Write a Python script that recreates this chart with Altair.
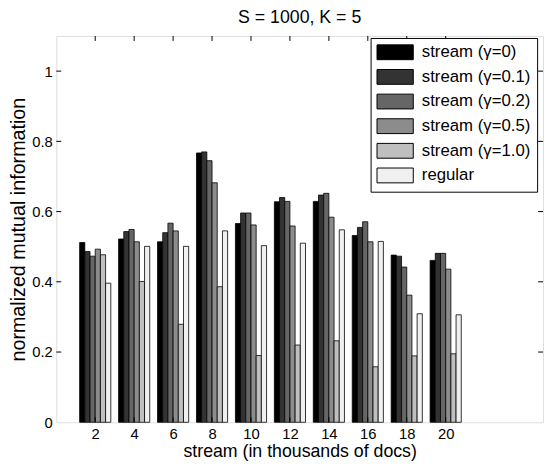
import altair as alt
import pandas as pd

groups = [2, 4, 6, 8, 10, 12, 14, 16, 18, 20]
series = ["stream (γ=0)", "stream (γ=0.1)", "stream (γ=0.2)",
          "stream (γ=0.5)", "stream (γ=1.0)", "regular"]
g_0 = [0.512, 0.522, 0.514, 0.767, 0.566, 0.628, 0.629, 0.532, 0.476, 0.461]
g_01 = [0.486, 0.543, 0.540, 0.770, 0.596, 0.640, 0.647, 0.555, 0.473, 0.481]
g_02 = [0.473, 0.549, 0.567, 0.745, 0.596, 0.629, 0.652, 0.571, 0.442, 0.481]
g_05 = [0.493, 0.514, 0.545, 0.682, 0.562, 0.559, 0.584, 0.514, 0.362, 0.436]
g_10 = [0.477, 0.401, 0.279, 0.386, 0.190, 0.220, 0.232, 0.158, 0.189, 0.195]
regular = [0.396, 0.501, 0.501, 0.545, 0.503, 0.510, 0.548, 0.515, 0.309, 0.306]
colors = ["#000000", "#333333", "#666666", "#8c8c8c", "#bfbfbf", "#f0f0f0"]
x_ticks = [2, 4, 6, 8, 10, 12, 14, 16, 18, 20]
y_ticks = [0, 0.2, 0.4, 0.6, 0.8, 1.0]

values = [g_0, g_01, g_02, g_05, g_10, regular]
rows = []
for si, (name, vals) in enumerate(zip(series, values)):
    for g, v in zip(groups, vals):
        rows.append({"group": g, "series": name, "idx": si, "value": v})
df = pd.DataFrame(rows)

W, H = 494, 392
FONT = "Liberation Sans"
XT = "stream (in thousands of docs)"
YT = "normalized mutual information"
xscale = alt.Scale(domain=[0, 25], nice=False, zero=False)
yscale = alt.Scale(domain=[0, 1.1], nice=False)
xaxis = alt.Axis(values=x_ticks, ticks=False, domain=False, grid=False,
                 labelFontSize=15, labelPadding=4, titleFontSize=18,
                 titlePadding=2, labelColor="black", titleColor="black",
                 titleFontWeight="normal", labelFont=FONT, titleFont=FONT)
yaxis = alt.Axis(values=y_ticks, format="~g", ticks=False, domain=False,
                 grid=False, labelFontSize=15, labelPadding=4,
                 titleFontSize=20, titlePadding=3, labelColor="black",
                 titleColor="black", titleFontWeight="normal",
                 labelFont=FONT, titleFont=FONT)

bars = alt.Chart(df).transform_calculate(
    x1="datum.group - 0.8 + datum.idx * 1.6 / 6",
    x2="datum.group - 0.8 + (datum.idx + 1) * 1.6 / 6",
).mark_rect(stroke="black", strokeWidth=0.8).encode(
    x=alt.X("x1:Q", scale=xscale, axis=xaxis, title=XT),
    x2="x2:Q",
    y=alt.Y("value:Q", scale=yscale, axis=yaxis, title=YT),
    y2=alt.datum(0),
    fill=alt.Fill("series:N", scale=alt.Scale(domain=series, range=colors),
                  legend=alt.Legend(orient="none", legendX=319, legendY=2,
                                    title=None, strokeColor="black",
                                    fillColor="white", padding=6,
                                    symbolType="M-1,-0.94H3.6V0.94H-1Z",
                                    symbolSize=256, symbolStrokeColor="black",
                                    symbolStrokeWidth=1, symbolOpacity=1,
                                    labelFontSize=17, labelFont=FONT,
                                    labelColor="black", labelOffset=29,
                                    rowPadding=4)),
)

xt = pd.DataFrame({"t": x_ticks})
yt = pd.DataFrame({"t": y_ticks[1:]})

x_bottom = alt.Chart(xt).mark_rule(color="black", strokeWidth=1).encode(
    x=alt.X("t:Q", scale=xscale, axis=xaxis, title=XT),
    y=alt.value(H), y2=alt.value(H - 5))
x_top = alt.Chart(xt).mark_rule(color="black", strokeWidth=1).encode(
    x=alt.X("t:Q", scale=xscale, axis=xaxis, title=XT),
    y=alt.value(0), y2=alt.value(5))
y_left = alt.Chart(yt).mark_rule(color="black", strokeWidth=1).encode(
    y=alt.Y("t:Q", scale=yscale, axis=yaxis, title=YT),
    x=alt.value(0), x2=alt.value(5))
y_right = alt.Chart(yt).mark_rule(color="black", strokeWidth=1).encode(
    y=alt.Y("t:Q", scale=yscale, axis=yaxis, title=YT),
    x=alt.value(W - 5), x2=alt.value(W))

chart = alt.layer(bars, x_bottom, x_top, y_left, y_right).properties(
    width=W, height=H,
    title=alt.Title("S = 1000, K = 5", fontSize=18, font=FONT,
                    fontWeight="normal", color="black", offset=9),
    autosize="none",
    padding={"left": 49, "top": 25, "right": 3, "bottom": 44},
).configure_view(stroke="black", strokeWidth=1).configure(background="white")

chart.save("out.html", embed_options={"renderer": "svg", "actions": False})
